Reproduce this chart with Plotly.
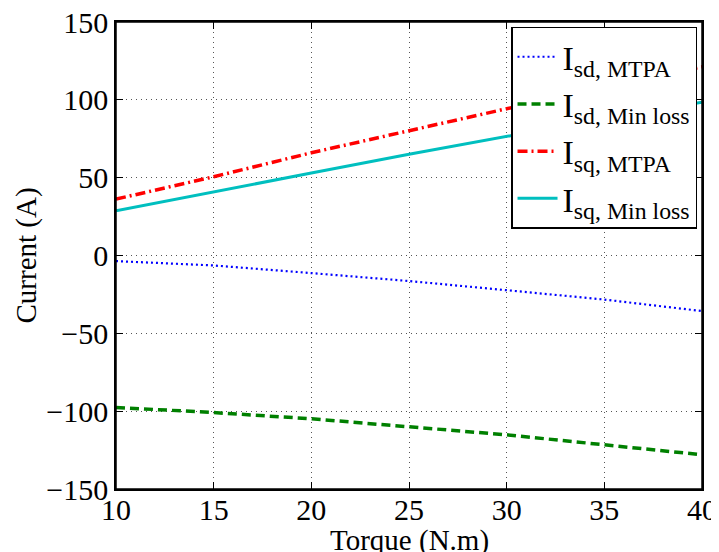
import plotly.graph_objects as go

torque = [10, 15, 20, 25, 30, 35, 40]
isd_mtpa = [-3.6, -6.4, -11.3, -16.4, -22.3, -28.3, -35.7]
isd_minloss = [-97.6, -100.9, -104.9, -109.8, -115.2, -121.6, -128.0]
isq_mtpa = [36.2, 50.6, 66.0, 80.4, 94.3, 108.0, 121.2]
isq_minloss = [28.7, 41.0, 53.0, 65.0, 76.6, 88.0, 98.5]

names = [
    'I<sub>sd, MTPA</sub>',
    'I<sub>sd, Min loss</sub>',
    'I<sub>sq, MTPA</sub>',
    'I<sub>sq, Min loss</sub>',
]
x_title = "Torque (N.m)"
y_title = "Current (A)"
x_ticks = [10, 15, 20, 25, 30, 35, 40]
y_ticks = [-150, -100, -50, 0, 50, 100, 150]

FONT = "Liberation Serif"
fig = go.Figure()
fig.add_trace(go.Scatter(x=torque, y=isd_mtpa, mode="lines", name=names[0],
                         line=dict(color="#0000ff", width=2.2, dash="2px,3px")))
fig.add_trace(go.Scatter(x=torque, y=isd_minloss, mode="lines", name=names[1],
                         line=dict(color="#008000", width=3.5, dash="9px,5px")))
fig.add_trace(go.Scatter(x=torque, y=isq_mtpa, mode="lines", name=names[2],
                         line=dict(color="#ff0000", width=3.5, dash="10px,4px,2px,4px")))
fig.add_trace(go.Scatter(x=torque, y=isq_minloss, mode="lines", name=names[3],
                         line=dict(color="#00bfbf", width=3)))

axis_common = dict(
    showline=True, linecolor="black", linewidth=1.5, mirror="ticks",
    ticks="inside", ticklen=7, tickcolor="black", tickwidth=1,
    showgrid=True, gridcolor="#555555", griddash="1px,4px", gridwidth=1,
    zeroline=False, ticklabeloverflow="allow",
    tickfont=dict(family=FONT, size=30, color="black"),
)

fig.update_xaxes(range=[10, 40], tickvals=x_ticks, ticklabelstandoff=-7, **axis_common)
fig.update_yaxes(range=[-150, 150], tickvals=y_ticks, **axis_common)

# page body has an 8px margin; plot area targeted at x 116..702, y 22..489
fig.update_layout(
    width=719, height=552,
    margin=dict(l=108, r=25, t=14, b=71, autoexpand=False),
    paper_bgcolor="white", plot_bgcolor="white",
    font=dict(family=FONT, color="black"),
    showlegend=True,
    legend=dict(x=0.9915, y=0.99, xanchor="right", yanchor="top",
                bgcolor="white", bordercolor="black", borderwidth=1.5,
                font=dict(family=FONT, size=34, color="black"),
                tracegroupgap=0, itemwidth=40),
    shapes=[dict(type="rect", xref="paper", yref="paper", x0=0, y0=0, x1=1, y1=1,
                 line=dict(color="black", width=1.5), layer="above")],
    annotations=[
        dict(text=x_title, xref="paper", yref="paper", x=0.5, y=0,
             xanchor="center", yanchor="middle", yshift=-51, showarrow=False,
             font=dict(family=FONT, size=29, color="black")),
        dict(text=y_title, xref="paper", yref="paper", x=0, y=0.5,
             xanchor="center", yanchor="middle", xshift=-90, textangle=-90,
             showarrow=False, font=dict(family=FONT, size=29, color="black")),
    ],
)

fig.write_html("out.html")
